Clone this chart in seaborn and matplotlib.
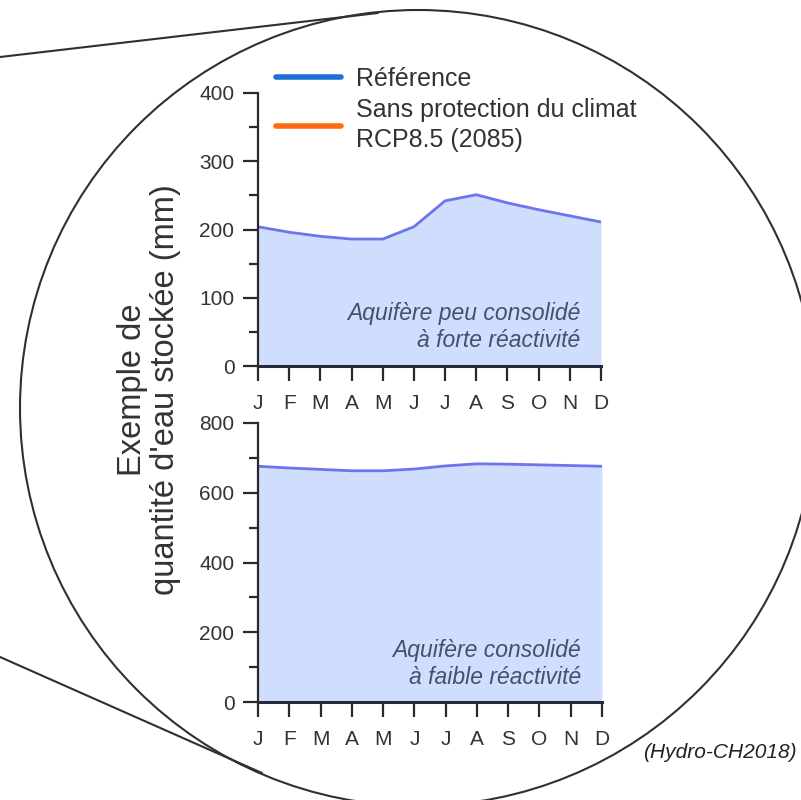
import matplotlib
matplotlib.use("Agg")
import matplotlib.pyplot as plt
import seaborn as sns
import pandas as pd
from matplotlib.lines import Line2D
from matplotlib.patches import Circle
from matplotlib.ticker import MultipleLocator

# Monthly stored water (mm) for two aquifer types, reference period
months = ["J", "F", "M", "A", "M", "J", "J", "A", "S", "O", "N", "D"]
ref_peu_consolide = [204, 196, 190, 186, 186, 204, 242, 251, 239, 229, 220, 211]
ref_consolide = [676, 671, 667, 663, 663, 668, 677, 683, 682, 680, 678, 676]

legend_labels = ["Référence", "Sans protection du climat\nRCP8.5 (2085)"]
legend_colors = ["#1f6fd6", "#ff6a13"]
panel_notes = ["Aquifère peu consolidé\nà forte réactivité",
               "Aquifère consolidé\nà faible réactivité"]
ylabel = "Exemple de\nquantité d'eau stockée (mm)"
source = "(Hydro-CH2018)"

sns.set_style("ticks")
plt.rcParams["font.family"] = ["Liberation Sans", "DejaVu Sans"]

FILL = "#d0defd"
LINE = "#6e73ee"
INK = "#2a2a2a"
NOTE = "#46506e"

fig = plt.figure(figsize=(8.01, 8.00), dpi=100)

# Magnifier circle and its two tangent lines, drawn in pixel space
bg = fig.add_axes([0, 0, 1, 1], zorder=-1)
bg.set_xlim(0, 801)
bg.set_ylim(800, 0)
bg.axis("off")
bg.add_patch(Circle((418, 408), 398, fill=False, lw=1.5, ec="#303030"))
bg.plot([0, 378], [57, 13], color="#303030", lw=1.5)
bg.plot([0, 262], [657, 773], color="#303030", lw=1.5)

W = 801.0
H = 800.0
ax_top = fig.add_axes([258 / W, 1 - 366 / H, (601 - 258) / W, (366 - 93) / H])
ax_bot = fig.add_axes([258 / W, 1 - 702 / H, (602 - 258) / W, (702 - 423) / H])

x = list(range(len(months)))
panels = [
    (ax_top, ref_peu_consolide, 400, 100, 50, panel_notes[0], 0.05),
    (ax_bot, ref_consolide, 800, 200, 100, panel_notes[1], 0.045),
]
for ax, values, ymax, major, minor, note, note_y in panels:
    df = pd.DataFrame({"mois": x, "eau": values})
    ax.fill_between(df["mois"], 0, df["eau"], color=FILL, lw=0, zorder=1)
    sns.lineplot(data=df, x="mois", y="eau", ax=ax, color=LINE, lw=2.0, zorder=2)
    ax.set_xlim(0, 11)
    ax.set_ylim(0, ymax)
    ax.set_xticks(x)
    ax.set_xticklabels(months)
    ax.yaxis.set_major_locator(MultipleLocator(major))
    ax.yaxis.set_minor_locator(MultipleLocator(minor))
    ax.set_xlabel("")
    ax.set_ylabel("")
    ax.patch.set_alpha(0)
    sns.despine(ax=ax)
    ax.spines["left"].set_linewidth(1.6)
    ax.spines["left"].set_color(INK)
    ax.spines["bottom"].set_linewidth(2.2)
    ax.spines["bottom"].set_color("#262a3a")
    ax.tick_params(axis="y", which="major", length=11, width=1.6, color=INK,
                   labelsize=15, labelcolor="#333333", pad=6)
    ax.tick_params(axis="y", which="minor", length=6.5, width=1.6, color=INK)
    ax.tick_params(axis="x", which="major", length=11, width=1.6, color=INK,
                   labelsize=15, labelcolor="#333333", pad=9)
    ax.text(0.94, note_y, note, transform=ax.transAxes, ha="right", va="bottom",
            fontsize=16.5, style="italic", color=NOTE, linespacing=1.25)

handles = [Line2D([], [], color=c, lw=4, solid_capstyle="round") for c in legend_colors]
leg = ax_top.legend(handles, legend_labels, loc="upper left",
                    bbox_to_anchor=(276 / W, 1 - 67 / H),
                    bbox_transform=fig.transFigure, frameon=False,
                    fontsize=18, handlelength=2.6, handletextpad=0.6,
                    labelspacing=0.3, borderpad=0, borderaxespad=0)
for t in leg.get_texts():
    t.set_color("#333333")
    t.set_linespacing(1.28)

fig.text(149 / W, 1 - 390 / H, ylabel, rotation=90, ha="center", va="center",
         fontsize=23.5, color="#333333", linespacing=1.1, multialignment="center")

# Source credit, kept inside the right edge
fig.text(797 / W, 1 - 752 / H, source, ha="right", va="center", fontsize=15,
         style="italic", color="#222222")

fig.savefig("out.png", dpi=100)
